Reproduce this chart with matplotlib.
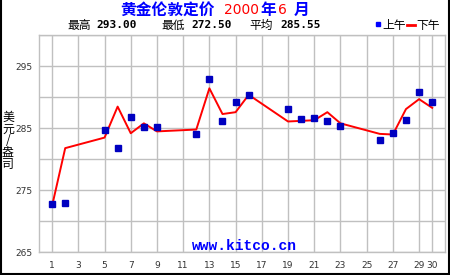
import matplotlib
matplotlib.use("Agg")
import matplotlib.pyplot as plt
from matplotlib.lines import Line2D

# ---- data ----
days = [1, 2, 5, 6, 7, 8, 9, 12, 13, 14, 15, 16, 19, 20, 21, 22, 23, 26, 27, 28, 29, 30]
am = [272.75, 272.9, 284.8, 281.8, 286.9, 285.2, 285.2, 284.1, 293.0, 286.1, 289.2, 290.3,
      288.1, 286.45, 286.65, 286.1, 285.4, 283.1, 284.2, 286.3, 290.8, 289.2]
pm = [272.5, 281.8, 283.5, 288.5, 284.2, 285.8, 284.5, 284.8, 291.45, 287.3, 287.6, 290.4,
      286.1, 286.2, 286.3, 287.6, 285.8, 284.1, 284.0, 288.1, 289.7, 288.3]
xticks = [1, 3, 5, 7, 9, 11, 13, 15, 17, 19, 21, 23, 25, 27, 29, 30]
yticks = [265, 275, 285, 295]
ygrid = [270, 280, 290, 300]
stats_labels = ["最高", "最低", "平均"]
stats_values = ["293.00", "272.50", "285.55"]
ylabel_chars = ["美", "元", "/", "盎", "司"]

CJK = ["Noto Sans CJK SC", "DejaVu Sans"]
W, H = 450, 275
fig = plt.figure(figsize=(W / 100, H / 100), dpi=100)
fig.patch.set_facecolor("white")

def fx(px):
    return px / W

def fy(py):
    return 1 - py / H

ax = fig.add_axes([fx(39), fy(252.3), (445.3 - 39) / W, (252.3 - 35.3) / H])
ax.set_xlim(0, 31)
ax.set_ylim(265, 300)

grid_c = "#c0c0c0"
ax.set_xticks(xticks)
ax.set_xticklabels([str(t) for t in xticks])
ax.set_yticks(yticks)
ax.set_yticks(ygrid, minor=True)
ax.grid(True, which="both", color=grid_c, linewidth=1.0)
ax.set_axisbelow(True)
for s in ax.spines.values():
    s.set_color(grid_c)
    s.set_linewidth(1.0)
ax.tick_params(which="both", length=0, labelsize=6.5, labelcolor="#333333", pad=5)
ax.tick_params(axis="x", pad=6)

ax.plot(days, pm, color="#ff0000", linewidth=1.4, zorder=3)
ax.plot(days, am, linestyle="none", marker="s", markersize=4.2, color="#0000c0", zorder=4)

ax.text(15.7, 265.95, "www.kitco.cn", ha="center", va="center", fontsize=10.5,
        family="Liberation Mono", fontweight="bold", color="#0000ff", zorder=5)

# y label stacked, one character per row
for i, ch in enumerate(ylabel_chars):
    fig.text(fx(8), fy(117.5 + 11.7 * i), ch, ha="center", va="center", fontsize=8.6,
             family=CJK, color="black", rotation=0)

# title pieces
ty = fy(9.5)
fig.text(fx(120), ty, "黄金伦敦定价", ha="left", va="center", fontsize=11.3,
         family=CJK, fontweight="bold", color="#0000ff")
fig.text(fx(224), ty, "2000", ha="left", va="center", fontsize=10, family="DejaVu Sans", color="#ff0000")
fig.text(fx(260), ty, "年", ha="left", va="center", fontsize=11.3, family=CJK, fontweight="bold", color="#0000ff")
fig.text(fx(278), ty, "6", ha="left", va="center", fontsize=10, family="DejaVu Sans", color="#ff0000")
fig.text(fx(294), ty, "月", ha="left", va="center", fontsize=11.3, family=CJK, fontweight="bold", color="#0000ff")

# stats line
sy = fy(25)
for lab, val, lx, vx in zip(stats_labels, stats_values, [67, 161, 249.5], [96.5, 191.5, 280.5]):
    fig.text(fx(lx), sy, lab, ha="left", va="center", fontsize=8.5, family=CJK, color="black")
    fig.text(fx(vx), sy, val, ha="left", va="center", fontsize=8, family="DejaVu Sans Mono",
             fontweight="bold", color="black")

# legend
fig.add_artist(Line2D([fx(378.3)], [fy(24)], marker="s", markersize=3.5, color="#0000ff",
                      linestyle="none", transform=fig.transFigure))
fig.text(fx(382), sy, "上午", ha="left", va="center", fontsize=8.5, family=CJK, color="black")
fig.add_artist(Line2D([fx(406.5), fx(415)], [fy(24.5), fy(24.5)], color="#ff0000",
                      linewidth=2, transform=fig.transFigure))
fig.text(fx(416.5), sy, "下午", ha="left", va="center", fontsize=8.5, family=CJK, color="black")

# figure border (left, bottom, right)
fig.add_artist(Line2D([fx(0.8), fx(0.8)], [0, 1], color="black", linewidth=1.5, transform=fig.transFigure))
fig.add_artist(Line2D([0, 1], [fy(274.2), fy(274.2)], color="black", linewidth=1.5, transform=fig.transFigure))
fig.add_artist(Line2D([fx(449.2), fx(449.2)], [0, 1], color="black", linewidth=1.5, transform=fig.transFigure))

fig.savefig("out.png", dpi=100, facecolor="white")
